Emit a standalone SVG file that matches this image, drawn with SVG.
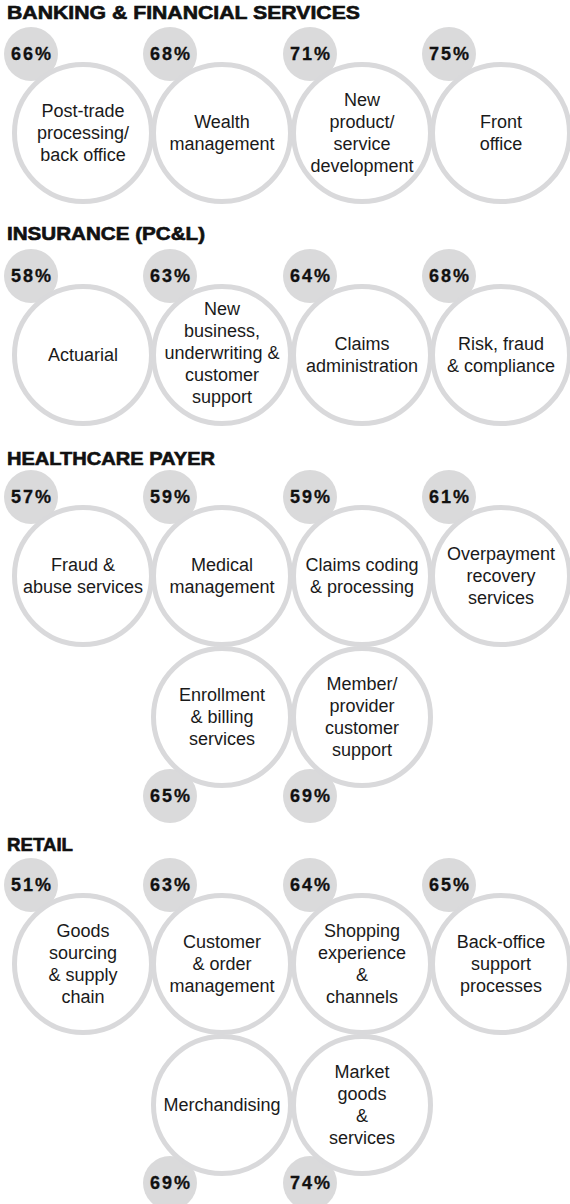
<svg xmlns="http://www.w3.org/2000/svg" width="570" height="1204" viewBox="0 0 570 1204">
<style>
.bg{fill:#ffffff}
.pc{fill:#dadadb}
.big{fill:#ffffff;stroke:#d9d9db;stroke-width:5}
.h{font-family:"Liberation Sans",Arial,sans-serif;font-weight:bold;font-size:18px;fill:#111;stroke:#111;stroke-width:0.6px}
.p{font-family:"Liberation Sans",Arial,sans-serif;font-weight:bold;font-size:18px;fill:#111;text-anchor:middle;letter-spacing:2px;stroke:#111;stroke-width:0.3px}
.t{font-family:"Liberation Sans",Arial,sans-serif;font-size:18px;fill:#1a1a1a;text-anchor:middle}
</style>
<rect class="bg" x="0" y="0" width="570" height="1204"/>
<g id="headings">
<text class="h" x="7" y="19" textLength="353" lengthAdjust="spacingAndGlyphs">BANKING &amp; FINANCIAL SERVICES</text>
<text class="h" x="7" y="240" textLength="198" lengthAdjust="spacingAndGlyphs">INSURANCE (PC&amp;L)</text>
<text class="h" x="7" y="465" textLength="208" lengthAdjust="spacingAndGlyphs">HEALTHCARE PAYER</text>
<text class="h" x="7" y="851" textLength="66" lengthAdjust="spacingAndGlyphs">RETAIL</text>
</g>
<g id="connectors"></g>

<!-- Banking -->
<g id="bank-posttrade">
<circle class="pc" cx="31" cy="54" r="27"/><circle class="big" cx="83" cy="133" r="68.5"/>
<text class="p" x="32" y="60">66%</text>
<text class="t" x="83" y="117">Post-trade<tspan x="83" dy="22">processing/</tspan><tspan x="83" dy="22">back office</tspan></text>
</g>
<g id="bank-wealth">
<circle class="pc" cx="170" cy="54" r="27"/><circle class="big" cx="222" cy="133" r="68.5"/>
<text class="p" x="171" y="60">68%</text>
<text class="t" x="222" y="128">Wealth<tspan x="222" dy="22">management</tspan></text>
</g>
<g id="bank-newproduct">
<circle class="pc" cx="310" cy="54" r="27"/><circle class="big" cx="362" cy="133" r="68.5"/>
<text class="p" x="311" y="60">71%</text>
<text class="t" x="362" y="106">New<tspan x="362" dy="22">product/</tspan><tspan x="362" dy="22">service</tspan><tspan x="362" dy="22">development</tspan></text>
</g>
<g id="bank-front">
<circle class="pc" cx="449" cy="54" r="27"/><circle class="big" cx="501" cy="133" r="68.5"/>
<text class="p" x="450" y="60">75%</text>
<text class="t" x="501" y="128">Front<tspan x="501" dy="22">office</tspan></text>
</g>

<!-- Insurance -->
<g id="ins-actuarial">
<circle class="pc" cx="31" cy="276" r="27"/><circle class="big" cx="83" cy="355" r="68.5"/>
<text class="p" x="32" y="282">58%</text>
<text class="t" x="83" y="361">Actuarial</text>
</g>
<g id="ins-newbusiness">
<circle class="pc" cx="170" cy="276" r="27"/><circle class="big" cx="222" cy="355" r="68.5"/>
<text class="p" x="171" y="282">63%</text>
<text class="t" x="222" y="315">New<tspan x="222" dy="22">business,</tspan><tspan x="222" dy="22">underwriting &amp;</tspan><tspan x="222" dy="22">customer</tspan><tspan x="222" dy="22">support</tspan></text>
</g>
<g id="ins-claims">
<circle class="pc" cx="310" cy="276" r="27"/><circle class="big" cx="362" cy="355" r="68.5"/>
<text class="p" x="311" y="282">64%</text>
<text class="t" x="362" y="350">Claims<tspan x="362" dy="22">administration</tspan></text>
</g>
<g id="ins-risk">
<circle class="pc" cx="449" cy="276" r="27"/><circle class="big" cx="501" cy="355" r="68.5"/>
<text class="p" x="450" y="282">68%</text>
<text class="t" x="501" y="350">Risk, fraud<tspan x="501" dy="22">&amp; compliance</tspan></text>
</g>

<!-- Healthcare -->
<g id="hc-fraud">
<circle class="pc" cx="31" cy="497" r="27"/><circle class="big" cx="83" cy="576" r="68.5"/>
<text class="p" x="32" y="503">57%</text>
<text class="t" x="83" y="571">Fraud &amp;<tspan x="83" dy="22">abuse services</tspan></text>
</g>
<g id="hc-medical">
<circle class="pc" cx="170" cy="497" r="27"/><circle class="big" cx="222" cy="576" r="68.5"/>
<text class="p" x="171" y="503">59%</text>
<text class="t" x="222" y="571">Medical<tspan x="222" dy="22">management</tspan></text>
</g>
<g id="hc-claims">
<circle class="pc" cx="310" cy="497" r="27"/><circle class="big" cx="362" cy="576" r="68.5"/>
<text class="p" x="311" y="503">59%</text>
<text class="t" x="362" y="571">Claims coding<tspan x="362" dy="22">&amp; processing</tspan></text>
</g>
<g id="hc-overpayment">
<circle class="pc" cx="449" cy="497" r="27"/><circle class="big" cx="501" cy="576" r="68.5"/>
<text class="p" x="450" y="503">61%</text>
<text class="t" x="501" y="560">Overpayment<tspan x="501" dy="22">recovery</tspan><tspan x="501" dy="22">services</tspan></text>
</g>
<g id="hc-enrollment">
<circle class="pc" cx="170" cy="796" r="27"/><circle class="big" cx="222" cy="717" r="68.5"/>
<text class="p" x="171" y="802">65%</text>
<text class="t" x="222" y="701">Enrollment<tspan x="222" dy="22">&amp; billing</tspan><tspan x="222" dy="22">services</tspan></text>
</g>
<g id="hc-member">
<circle class="pc" cx="310" cy="796" r="27"/><circle class="big" cx="362" cy="717" r="68.5"/>
<text class="p" x="311" y="802">69%</text>
<text class="t" x="362" y="690">Member/<tspan x="362" dy="22">provider</tspan><tspan x="362" dy="22">customer</tspan><tspan x="362" dy="22">support</tspan></text>
</g>

<!-- Retail -->
<g id="rt-goods">
<circle class="pc" cx="31" cy="885" r="27"/><circle class="big" cx="83" cy="964" r="68.5"/>
<text class="p" x="32" y="891">51%</text>
<text class="t" x="83" y="937">Goods<tspan x="83" dy="22">sourcing</tspan><tspan x="83" dy="22">&amp; supply</tspan><tspan x="83" dy="22">chain</tspan></text>
</g>
<g id="rt-customer">
<circle class="pc" cx="170" cy="885" r="27"/><circle class="big" cx="222" cy="964" r="68.5"/>
<text class="p" x="171" y="891">63%</text>
<text class="t" x="222" y="948">Customer<tspan x="222" dy="22">&amp; order</tspan><tspan x="222" dy="22">management</tspan></text>
</g>
<g id="rt-shopping">
<circle class="pc" cx="310" cy="885" r="27"/><circle class="big" cx="362" cy="964" r="68.5"/>
<text class="p" x="311" y="891">64%</text>
<text class="t" x="362" y="937">Shopping<tspan x="362" dy="22">experience</tspan><tspan x="362" dy="22">&amp;</tspan><tspan x="362" dy="22">channels</tspan></text>
</g>
<g id="rt-backoffice">
<circle class="pc" cx="449" cy="885" r="27"/><circle class="big" cx="501" cy="964" r="68.5"/>
<text class="p" x="450" y="891">65%</text>
<text class="t" x="501" y="948">Back-office<tspan x="501" dy="22">support</tspan><tspan x="501" dy="22">processes</tspan></text>
</g>
<g id="rt-merch">
<circle class="pc" cx="170" cy="1183" r="27"/><circle class="big" cx="222" cy="1105" r="68.5"/>
<text class="p" x="171" y="1189">69%</text>
<text class="t" x="222" y="1111">Merchandising</text>
</g>
<g id="rt-market">
<circle class="pc" cx="310" cy="1183" r="27"/><circle class="big" cx="362" cy="1105" r="68.5"/>
<text class="p" x="311" y="1189">74%</text>
<text class="t" x="362" y="1078">Market<tspan x="362" dy="22">goods</tspan><tspan x="362" dy="22">&amp;</tspan><tspan x="362" dy="22">services</tspan></text>
</g>
</svg>
